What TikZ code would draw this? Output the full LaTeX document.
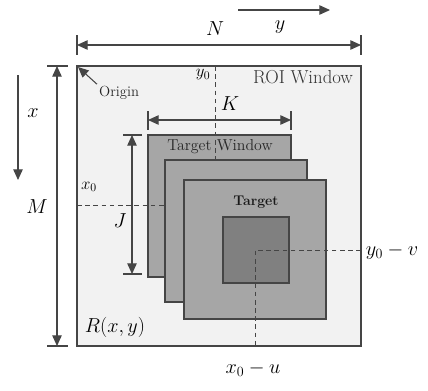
\documentclass[tikz,border=0pt]{standalone}
\usepackage{amsmath}
\usetikzlibrary{arrows.meta}
\definecolor{roifill}{HTML}{F2F2F2}
\definecolor{winfill}{HTML}{A6A6A6}
\definecolor{tgtfill}{HTML}{808080}
\definecolor{edge}{HTML}{454545}
\tikzset{
  frame/.style={draw=edge, line width=1.1pt},
  dimline/.style={draw=edge, line width=0.9pt, {Triangle[length=9pt,width=8pt]}-{Triangle[length=9pt,width=8pt]}},
  dirline/.style={draw=edge, line width=0.9pt, -{Triangle[length=9pt,width=8pt]}},
  endbar/.style={draw=edge, line width=0.9pt},
  guide/.style={draw=edge, line width=0.8pt, dash pattern=on 4pt off 3pt},
  mathlbl/.style={font=\fontsize{16.5}{18}\selectfont},
}
\begin{document}
\begin{tikzpicture}[x=0.03cm, y=-0.03cm]
  \useasboundingbox (0,0) rectangle (428,390);
  % ROI window
  \draw[frame, fill=roifill] (77,66) rectangle (361,346);
  \node[font=\fontsize{16}{18}\selectfont, text=black!80] (roi) at (303,77) {ROI Window};
  % Target windows
  \draw[frame, fill=winfill] (148,135) rectangle (291,277);
  \draw[frame, fill=winfill] (165,160) rectangle (307,302);
  \draw[frame, fill=winfill] (184,180) rectangle (326,319);
  \draw[frame, fill=tgtfill] (223,217) rectangle (289,283);
  \node[font=\fontsize{13.5}{16}\selectfont, text=black!85] (twin) at (220,147) {Target Window};
  \node[font=\bfseries\fontsize{12}{14}\selectfont, text=black!90] (tgt) at (256,202) {Target};
  % Guide lines
  \coordinate (ytop) at (215,66);
  \coordinate (ybot) at (215,160);
  \coordinate (xl) at (77,205);
  \coordinate (xr) at (165,205);
  \coordinate (c) at (255,250);
  \coordinate (cr) at (361,250);
  \coordinate (cb) at (255,346);
  \draw[guide] (ytop) -- (ybot);
  \draw[guide] (xl) -- (xr);
  \draw[guide] (cr) -- (c) -- (cb);
  % Dimensions N and M
  \coordinate (nl) at (77,45);
  \coordinate (nr) at (361,45);
  \draw[dimline] (nl) -- (nr);
  \draw[endbar] (77,35) -- (77,55);
  \draw[endbar] (361,35) -- (361,55);
  \coordinate (mt) at (57,66);
  \coordinate (mb) at (57,346);
  \draw[dimline] (mt) -- (mb);
  \draw[endbar] (47,66) -- (68,66);
  \draw[endbar] (47,346) -- (68,346);
  % Dimensions K and J
  \coordinate (kl) at (148,120);
  \coordinate (kr) at (291,120);
  \draw[dimline] (kl) -- (kr);
  \draw[endbar] (148,111) -- (148,130);
  \draw[endbar] (291,111) -- (291,130);
  \coordinate (jt) at (132,135);
  \coordinate (jb) at (132,274);
  \draw[dimline] (jt) -- (jb);
  \draw[endbar] (123,135) -- (142,135);
  \draw[endbar] (123,274) -- (142,274);
  % Axis directions
  \coordinate (ys) at (238,10);
  \coordinate (ye) at (330,10);
  \draw[dirline] (ys) -- (ye);
  \coordinate (xs) at (18,75);
  \coordinate (xe) at (18,180);
  \draw[dirline] (xs) -- (xe);
  % Origin
  \node[font=\fontsize{12.5}{14}\selectfont, text=black!85, anchor=west] (orig) at (95,93) {Origin};
  \coordinate (corner) at (78,67);
  \draw[dirline] (orig.north west) ++(2,2) -- (corner);
  % Labels
  \node[mathlbl] (lN) at (215,29) {$N$};
  \node[mathlbl] (ly) at (280,27) {$y$};
  \node[mathlbl] (lx) at (33,113) {$x$};
  \node[mathlbl] (lM) at (37,207) {$M$};
  \node[mathlbl] (lK) at (230,104) {$K$};
  \node[mathlbl] (lJ) at (120,221) {$J$};
  \node[font=\fontsize{14}{16}\selectfont] (ly0) at (203,75) {$y_0$};
  \node[font=\fontsize{14}{16}\selectfont] (lx0) at (89,187) {$x_0$};
  \node[mathlbl] (lyv) at (392,252) {$y_0 - v$};
  \node[mathlbl] (lxu) at (253,369) {$x_0 - u$};
  \node[mathlbl] (lR) at (115,327) {$R(x,y)$};
\end{tikzpicture}
\end{document}
